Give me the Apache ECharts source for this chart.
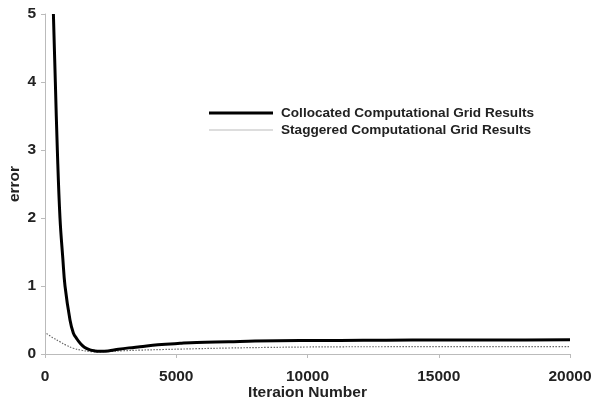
<!DOCTYPE html>
<html><head><meta charset="utf-8">
<script src="https://cdn.jsdelivr.net/npm/echarts@6/dist/echarts.min.js"></script>
<style>html,body{margin:0;padding:0;background:#fff}#c{width:592px;height:403px}</style>
</head><body><div id="c"></div>
<script>
const collocatedX = [320, 394, 470, 571, 680, 762, 952, 1079, 1200, 1333, 1500, 1714, 1900, 2095, 2400, 2800, 3200, 3619, 4300, 5143, 5778, 7000, 8000, 9714, 11238, 13000, 15000, 17500, 20000];
const collocatedY = [5, 4, 3, 2, 1.4, 1.0, 0.5, 0.31, 0.23, 0.16, 0.1, 0.06, 0.045, 0.04, 0.045, 0.07, 0.09, 0.107, 0.135, 0.157, 0.17, 0.18, 0.19, 0.197, 0.2, 0.203, 0.205, 0.207, 0.208];
const staggeredX = [60, 300, 571, 800, 1079, 1400, 1714, 2000, 2500, 3000, 3619, 4500, 5143, 5778, 7000, 8500, 10000, 11238, 13000, 15000, 17500, 20000];
const staggeredY = [0.3, 0.24, 0.18, 0.13, 0.085, 0.055, 0.037, 0.032, 0.038, 0.048, 0.057, 0.066, 0.072, 0.078, 0.088, 0.097, 0.103, 0.106, 0.107, 0.108, 0.108, 0.108];
const xTicks = [0, 5000, 10000, 15000, 20000];
const yTicks = [0, 1, 2, 3, 4, 5];
const seriesNames = ['Collocated Computational Grid Results', 'Staggered Computational Grid Results'];
const xTitle = 'Iteraion Number';
const yTitle = 'error';

const font = 'Liberation Sans, Arial, sans-serif';
const chart = echarts.init(document.getElementById('c'));
chart.setOption({
  animation: false,
  backgroundColor: '#fff',
  grid: {left: 45, right: 22, top: 14, bottom: 49, containLabel: false, outerBoundsMode: 'none'},
  legend: {
    left: 204, top: 101, orient: 'vertical', itemGap: 3, itemWidth: 64, itemHeight: 12,
    textStyle: {fontFamily: font, fontWeight: 'bold', fontSize: 13.6, color: '#222', padding: [0, 0, 0, 3]},
    data: [
      {name: seriesNames[0], itemStyle: {color: '#000'}, icon: 'path://M0,5 L64,5 L64,8 L0,8 Z'},
      {name: seriesNames[1], itemStyle: {color: '#bbb'}, icon: 'path://M0,6 L64,6 L64,7 L0,7 Z'}
    ]
  },
  xAxis: {
    type: 'value', min: xTicks[0], max: xTicks[xTicks.length - 1], interval: xTicks[1] - xTicks[0],
    name: xTitle, nameLocation: 'middle', nameGap: 31, nameMoveOverlap: false,
    nameTextStyle: {fontFamily: font, fontWeight: 'bold', fontSize: 15.5, color: '#222'},
    axisLine: {show: true, lineStyle: {color: '#bbb', width: 1}},
    axisTick: {show: true, length: 4, lineStyle: {color: '#bbb'}},
    axisLabel: {fontFamily: font, fontWeight: 'bold', fontSize: 15.5, color: '#222', margin: 15, formatter: v => String(v)},
    splitLine: {show: false}
  },
  yAxis: {
    type: 'value', min: yTicks[0], max: yTicks[yTicks.length - 1], interval: yTicks[1] - yTicks[0],
    name: yTitle, nameLocation: 'middle', nameGap: 22, nameRotate: 90, nameMoveOverlap: false,
    nameTextStyle: {fontFamily: font, fontWeight: 'bold', fontSize: 15.5, color: '#222'},
    axisLine: {show: true, lineStyle: {color: '#bbb', width: 1}},
    axisTick: {show: true, length: 4, lineStyle: {color: '#bbb'}},
    axisLabel: {fontFamily: font, fontWeight: 'bold', fontSize: 15.5, color: '#222', margin: 9, formatter: v => String(v)},
    splitLine: {show: false}
  },
  series: [
    {
      name: seriesNames[0], type: 'line', smooth: 0.4, showSymbol: false, symbol: 'none',
      data: collocatedX.map((x, i) => [x, collocatedY[i]]),
      lineStyle: {color: '#000', width: 3}, itemStyle: {color: '#000'}, z: 3
    },
    {
      name: seriesNames[1], type: 'line', smooth: 0.4, showSymbol: false, symbol: 'none',
      data: staggeredX.map((x, i) => [x, staggeredY[i]]),
      lineStyle: {color: '#666', width: 1.2, type: [1.5, 1.5]}, itemStyle: {color: '#bbb'}, z: 2
    }
  ]
});
</script></body></html>
